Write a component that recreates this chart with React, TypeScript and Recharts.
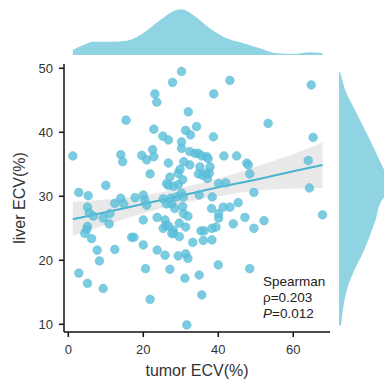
import {
  ComposedChart,
  AreaChart,
  Area,
  Line,
  Scatter,
  XAxis,
  YAxis,
  ZAxis,
} from "recharts";

const tumorECV = [
  1.2, 2.8, 5.3, 5.1, 5.6, 6.7, 5.1, 4.9, 4.4, 6.2, 7.7, 8.3, 2.8, 5.1, 9.3,
  10.0, 9.3, 11.1, 10.9, 12.4, 12.4, 14.0, 14.8, 14.0, 14.5, 15.4, 16.9, 17.5,
  17.8, 20.0, 20.4, 20.9, 20.0, 20.0, 20.6, 21.8, 19.6, 20.9, 21.8, 22.5, 22.8,
  22.8, 23.1, 23.6, 23.7, 23.7, 25.2, 25.3, 25.8, 26.2, 25.8, 26.0, 25.3, 26.7,
  27.1, 26.7, 27.1, 26.7, 27.3, 27.6, 27.8, 28.0, 28.0, 28.4, 28.9, 29.3, 29.3,
  29.8, 30.2, 30.2, 30.2, 30.5, 30.8, 30.7, 30.7, 31.1, 29.6, 29.3, 29.6, 31.3,
  31.6, 31.3, 31.9, 31.9, 31.3, 32.0, 32.4, 32.4, 32.6, 33.2, 33.8, 34.2, 34.7,
  34.7, 34.9, 34.9, 35.1, 35.6, 35.4, 36.0, 36.2, 35.8, 35.6, 36.9, 36.7, 37.3,
  37.1, 37.8, 37.6, 38.4, 38.2, 38.3, 38.3, 38.7, 38.8, 39.4, 40.1, 40.1, 40.1,
  40.0, 41.3, 42.0, 41.5, 43.1, 43.1, 44.0, 44.9, 45.3, 47.1, 47.6, 48.0, 48.4,
  48.4, 49.5, 49.5, 52.2, 53.3, 64.0, 64.3, 64.8, 65.3, 67.8, 28.0, 26.2, 30.2,
  30.5, 27.6, 26.7,
];

const liverECV = [
  36.3, 30.6, 30.1, 28.3, 27.4, 26.9, 25.3, 24.8, 24.2, 23.4, 21.6, 19.9, 18.0,
  16.4, 15.6, 31.7, 26.6, 27.3, 25.7, 21.7, 28.9, 29.7, 28.8, 36.5, 35.4, 41.9,
  23.6, 23.6, 29.8, 30.2, 29.4, 28.6, 26.3, 22.4, 18.7, 13.9, 36.4, 35.7, 33.5,
  37.3, 36.2, 40.5, 46.0, 44.7, 26.7, 21.6, 39.4, 29.6, 20.8, 28.8, 26.3, 25.4,
  25.0, 38.8, 18.6, 35.2, 33.0, 31.7, 29.7, 28.8, 47.8, 24.7, 24.2, 28.1, 29.9,
  33.6, 31.8, 34.2, 49.5, 37.5, 38.5, 32.6, 35.4, 29.9, 27.3, 17.2, 23.7, 20.7,
  25.8, 40.3, 9.9, 21.0, 20.3, 26.9, 25.2, 43.2, 37.0, 34.9, 39.6, 22.8, 36.7,
  40.9, 36.7, 33.5, 30.2, 17.7, 34.6, 14.6, 24.6, 23.1, 24.6, 33.3, 36.3, 36.2,
  33.6, 35.9, 32.8, 34.6, 33.6, 29.9, 28.1, 25.0, 23.2, 39.3, 46.0, 25.2, 32.0,
  27.3, 26.6, 19.3, 28.3, 32.1, 36.3, 48.1, 28.3, 25.7, 36.3, 29.0, 26.7, 35.2,
  34.9, 33.5, 18.7, 25.0, 30.6, 26.2, 41.4, 35.6, 31.3, 47.4, 39.2, 27.1, 31.6,
  32.0, 30.5, 28.4, 24.2, 25.4,
];

// regression fit + confidence band
const fitX = [1.2, 10, 20, 30, 40, 50, 60, 67.8];
const fitY = [26.4, 27.5, 28.8, 30.1, 31.4, 32.6, 33.9, 34.9];
const bandLow = [23.8, 25.5, 27.3, 28.9, 30.0, 30.9, 31.2, 31.3];
const bandHigh = [29.1, 29.5, 30.1, 31.3, 32.8, 34.6, 36.6, 38.4];

// marginal densities (relative heights)
const topX = [1.2, 4.0, 6.7, 11.1, 15.6, 19.9, 24.5, 28.9, 30.2, 33.3, 37.7, 42.2, 46.7, 51.1, 55.6, 60.0, 64.5, 67.8];
const topDensity = [5, 10, 13.3, 13.3, 14.3, 21.7, 35, 45, 45.7, 40, 26.7, 16.7, 11.7, 6.7, 1.7, 1, 2.7, 1.7];

const rightY = [10, 10.7, 13.3, 15.9, 18.5, 21.1, 23.7, 26.5, 29.4, 30.5, 33.1, 35.7, 38.3, 40.9, 43.5, 46.1, 49.2, 49.6];
const rightDensity = [1, 2.3, 7.3, 15.7, 24, 32.3, 40, 47, 45.5, 41.3, 36.7, 30.7, 24, 15.7, 9, 5, 2.3, 2];

const xTicks = [0, 20, 40, 60];
const yTicks = [10, 20, 30, 40, 50];

const points = tumorECV.map((x, i) => ({ x, y: liverECV[i] }));
const fitData = fitX.map((x, i) => ({ x, y: fitY[i], band: [bandLow[i], bandHigh[i]] }));
const topData = topX.map((x, i) => ({ x, d: topDensity[i] }));
const rightData = rightY.map((y, i) => ({ y, d: rightDensity[i] }));

const X_DOMAIN: [number, number] = [-1.15, 69.8];
const Y_DOMAIN: [number, number] = [8.8, 50.67];

const DENS = "#90d4e4";
const DOT = "#5bbfd9";
const FONT = "'Liberation Sans', Arial, sans-serif";

export default function App() {
  return (
    <div
      style={{
        position: "absolute",
        left: 0,
        top: 0,
        width: 384,
        height: 386,
        background: "#fff",
        overflow: "hidden",
        fontFamily: FONT,
      }}
    >
      <div style={{ position: "absolute", left: 0, top: 0 }}>
        <AreaChart width={384} height={60} data={topData} margin={{ top: 5, right: 54, bottom: 5, left: 64 }}>
          <XAxis type="number" dataKey="x" domain={X_DOMAIN} hide />
          <YAxis type="number" domain={[0, 50]} hide />
          <Area type="monotone" dataKey="d" stroke="none" fill={DENS} fillOpacity={1} isAnimationActive={false} />
        </AreaChart>
      </div>

      <div style={{ position: "absolute", left: 0, top: 0 }}>
        <AreaChart
          width={384}
          height={386}
          data={rightData}
          layout="vertical"
          margin={{ top: 64, right: 0, bottom: 54, left: 339 }}
        >
          <XAxis type="number" domain={[0, 45]} allowDataOverflow hide />
          <YAxis type="number" dataKey="y" domain={Y_DOMAIN} hide />
          <Area type="monotone" dataKey="d" stroke="none" fill={DENS} fillOpacity={1} isAnimationActive={false} />
        </AreaChart>
      </div>

      <div style={{ position: "absolute", left: 0, top: 0 }}>
        <ComposedChart width={384} height={386} margin={{ top: 64, right: 54, bottom: 14, left: 24 }}>
          <XAxis
            type="number"
            dataKey="x"
            domain={X_DOMAIN}
            ticks={xTicks}
            height={40}
            tickSize={5}
            tickMargin={8}
            stroke="#111"
            strokeWidth={1.5}
            tick={{ fill: "#333", fontSize: 13, fontFamily: FONT }}
            label={{ value: "tumor ECV(%)", position: "insideBottom", offset: -4, fill: "#333", fontSize: 16, fontFamily: FONT }}
          />
          <YAxis
            type="number"
            dataKey="y"
            domain={Y_DOMAIN}
            ticks={yTicks}
            width={40}
            tickSize={5}
            tickMargin={6}
            stroke="#111"
            strokeWidth={1.5}
            tick={{ fill: "#333", fontSize: 13, fontFamily: FONT }}
            label={{
              value: "liver ECV(%)",
              angle: -90,
              position: "insideLeft",
              offset: -5,
              textAnchor: "middle",
              fill: "#333",
              fontSize: 16,
              fontFamily: FONT,
            }}
          />
          <ZAxis range={[60, 60]} />
          <Area
            data={fitData}
            dataKey="band"
            type="monotone"
            stroke="none"
            fill="#e2e2e2"
            fillOpacity={0.75}
            isAnimationActive={false}
          />
          <Scatter
            data={points}
            fill={DOT}
            fillOpacity={0.8}
            stroke="#4cb5d2"
            strokeOpacity={0.5}
            strokeWidth={0.8}
            isAnimationActive={false}
          />
          <Line
            data={fitData}
            dataKey="y"
            type="linear"
            stroke="#4ab3d2"
            strokeWidth={2}
            dot={false}
            isAnimationActive={false}
          />
        </ComposedChart>
      </div>

      <div
        style={{
          position: "absolute",
          left: 263,
          top: 274,
          fontSize: 13.5,
          lineHeight: "16px",
          color: "#222",
        }}
      >
        <div>Spearman</div>
        <div>ρ=0.203</div>
        <div>
          <i>P</i>=0.012
        </div>
      </div>
    </div>
  );
}
